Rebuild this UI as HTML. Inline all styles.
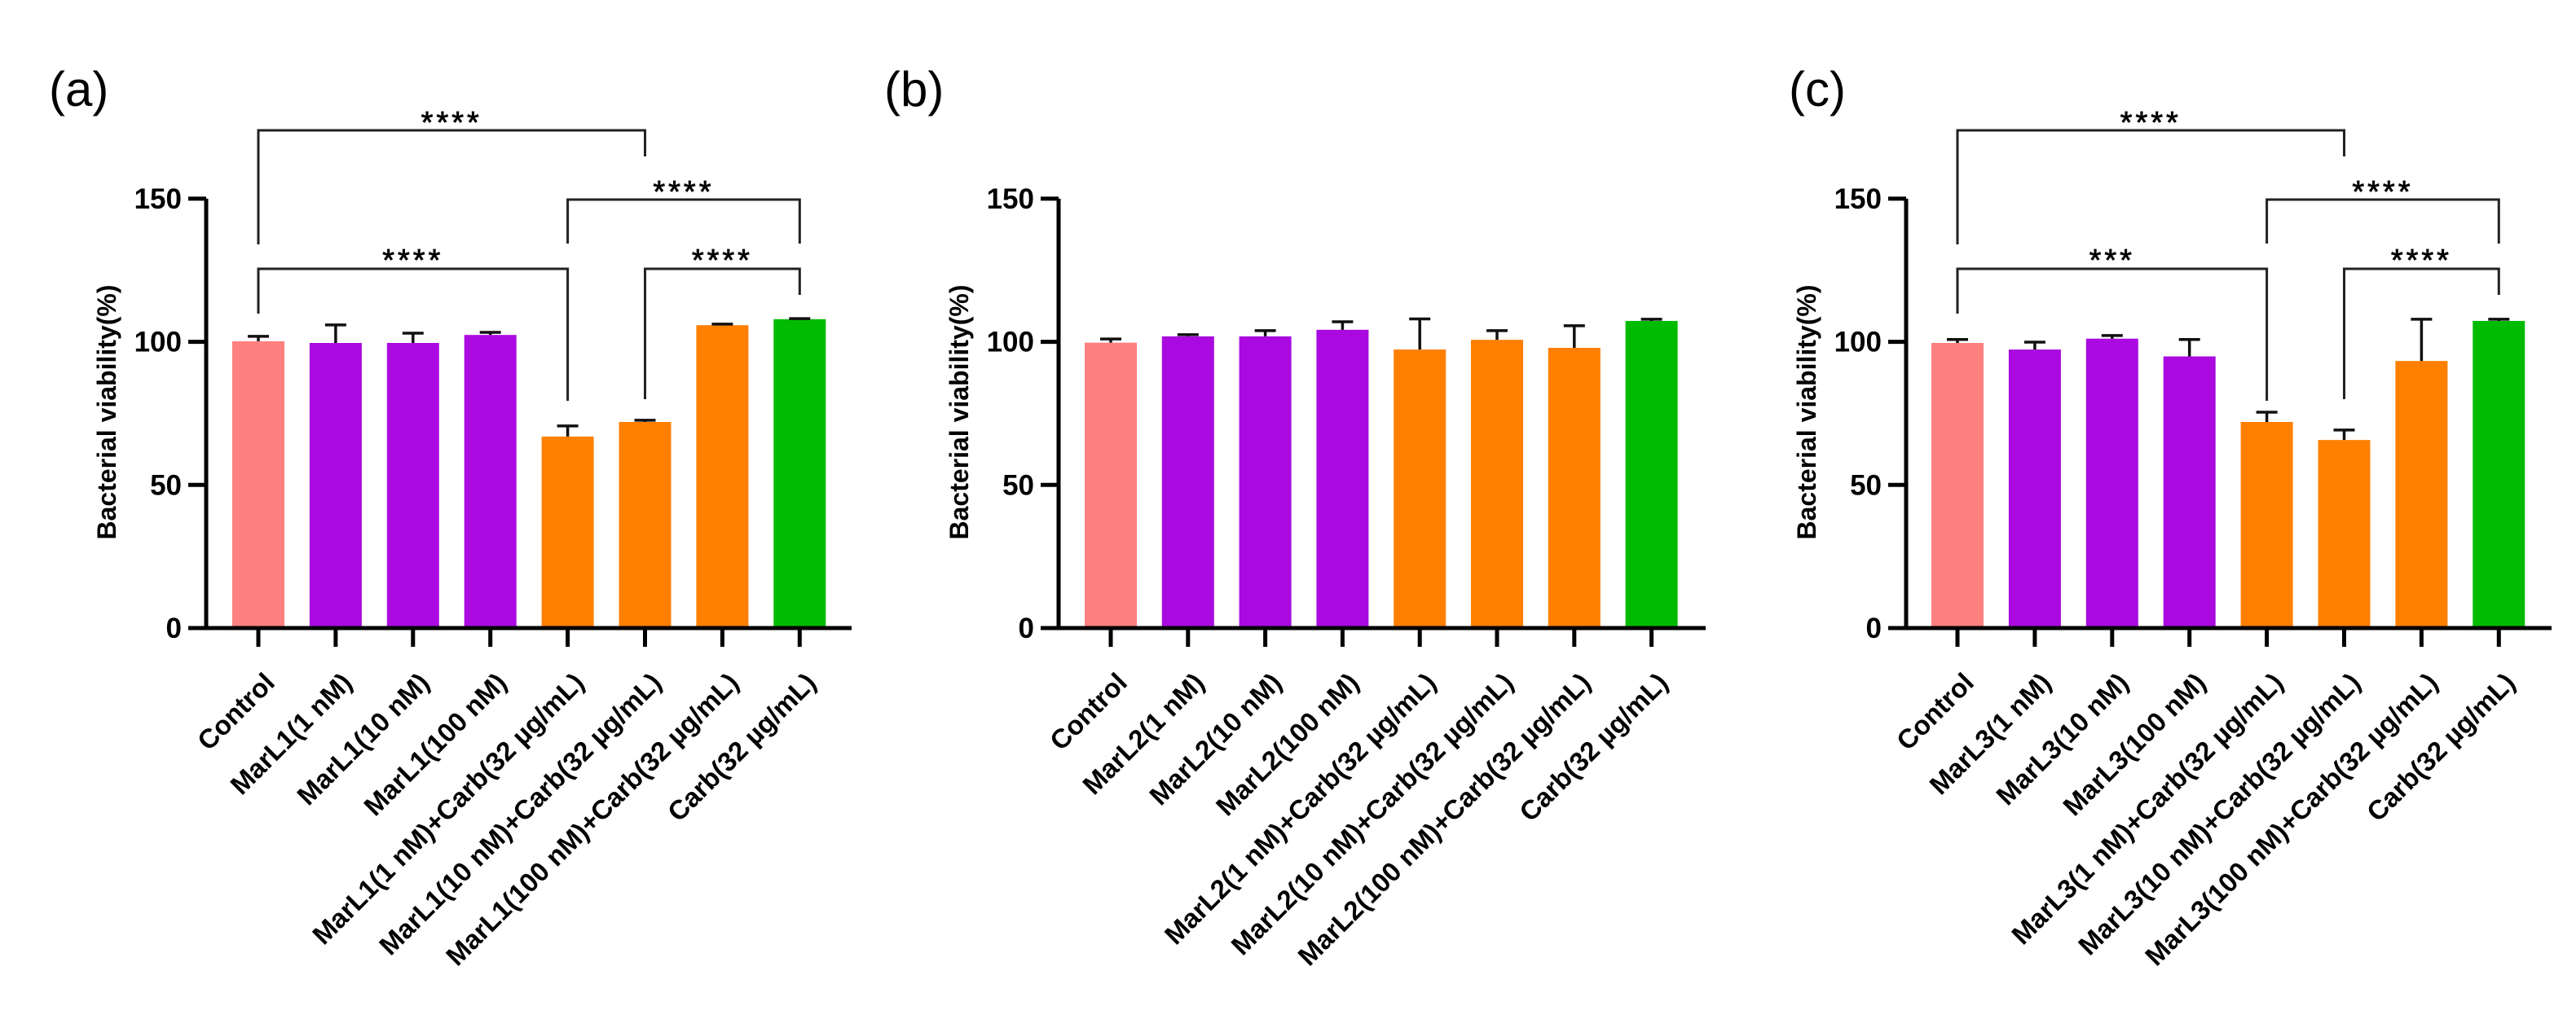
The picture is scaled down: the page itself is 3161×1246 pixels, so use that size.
<!DOCTYPE html>
<html><head><meta charset="utf-8"><style>
html,body{margin:0;padding:0;background:#fff;}
svg{display:block;}
text{font-family:"Liberation Sans",Arial,sans-serif;}
</style></head><body>
<svg id="fig" width="3161" height="1246" viewBox="0 0 3161 1246" xmlns="http://www.w3.org/2000/svg"></svg>
<script>
// ---- data ----
const labelsA = ["Control","MarL1(1 nM)","MarL1(10 nM)","MarL1(100 nM)","MarL1(1 nM)+Carb(32 µg/mL)","MarL1(10 nM)+Carb(32 µg/mL)","MarL1(100 nM)+Carb(32 µg/mL)","Carb(32 µg/mL)"];
const labelsB = ["Control","MarL2(1 nM)","MarL2(10 nM)","MarL2(100 nM)","MarL2(1 nM)+Carb(32 µg/mL)","MarL2(10 nM)+Carb(32 µg/mL)","MarL2(100 nM)+Carb(32 µg/mL)","Carb(32 µg/mL)"];
const labelsC = ["Control","MarL3(1 nM)","MarL3(10 nM)","MarL3(100 nM)","MarL3(1 nM)+Carb(32 µg/mL)","MarL3(10 nM)+Carb(32 µg/mL)","MarL3(100 nM)+Carb(32 µg/mL)","Carb(32 µg/mL)"];
const valuesA = [100.2, 99.6, 99.6, 102.4, 66.9, 72.0, 105.8, 107.9];
const errorsA = [1.7, 6.3, 3.4, 0.9, 3.7, 0.6, 0.4, 0.2];
const valuesB = [99.7, 101.9, 101.9, 104.2, 97.3, 100.7, 97.9, 107.3];
const errorsB = [1.3, 0.6, 2.0, 2.8, 10.7, 3.2, 7.7, 0.6];
const valuesC = [99.6, 97.3, 101.1, 94.9, 72.0, 65.7, 93.3, 107.3];
const errorsC = [1.2, 2.6, 1.1, 5.9, 3.4, 3.5, 14.6, 0.6];
const yTicks = [0, 50, 100, 150];
const colors = ["#ff8080","#aa0ae0","#aa0ae0","#aa0ae0","#ff8000","#ff8000","#ff8000","#00bb00"];
const sigA = [[0,5,"****"],[0,4,"****"],[4,7,"****"],[5,7,"****"]];
const sigC = [[0,5,"****"],[0,4,"***"],[4,7,"****"],[5,7,"****"]];

const panels = [
 {id:"a", letter:"(a)", lx:60, axisX:253, x0:317, step:94.9, axisEnd:1045, labels:labelsA, values:valuesA, errors:errorsA, sig:sigA},
 {id:"b", letter:"(b)", lx:1085, axisX:1299, x0:1363, step:94.8, axisEnd:2093, labels:labelsB, values:valuesB, errors:errorsB, sig:null},
 {id:"c", letter:"(c)", lx:2195, axisX:2339, x0:2402, step:94.9, axisEnd:3131, labels:labelsC, values:valuesC, errors:errorsC, sig:sigC}
];
const bracketGeom = [
 {y:160, ly:300, ry:192, sy:142},
 {y:330, ly:385, ry:492, sy:311},
 {y:245, ly:299, ry:299, sy:227},
 {y:330, ly:490, ry:362, sy:311}
];

const NS="http://www.w3.org/2000/svg";
const svg=document.getElementById("fig");
const Y0=771, PXPER=3.514;
function yScale(v){return Y0 - v*PXPER;}
function mk(tag, attrs, parent){
  const e=document.createElementNS(NS,tag);
  for(const k in attrs) e.setAttribute(k, attrs[k]);
  (parent||svg).appendChild(e);
  return e;
}

panels.forEach(p=>{
  const g=mk("g",{});
  
  
  const xS=i=>p.x0+i*p.step;

  const L=mk("text",{x:p.lx,y:130,"font-size":60},g);
  L.textContent=p.letter;
  
  

  p.values.forEach((v,i)=>{
    const r=mk("rect",{x:xS(i)-32,y:yScale(v),width:64,height:Y0-yScale(v),fill:colors[i]},g);
    
    
    const top=yScale(v+p.errors[i]);
    const eb=mk("path",{d:`M${xS(i)} ${yScale(v)} V${top} M${xS(i)-13} ${top} H${xS(i)+13}`,stroke:"#111","stroke-width":3.5,fill:"none"},g);
    
    
  });

  const ax=mk("path",{d:`M${p.axisX} ${yScale(150)} V${Y0+2} M${p.axisX-22} ${Y0} H${p.axisEnd}`,stroke:"#000","stroke-width":5,fill:"none"},g);
  
  
  yTicks.forEach(t=>{
    const y=yScale(t);
    const tk=mk("line",{x1:p.axisX-22,x2:p.axisX,y1:y,y2:y,stroke:"#000","stroke-width":5},g);
    
    
    const tl=mk("text",{x:p.axisX-30,y:y+12,"font-size":35,"font-weight":"bold","text-anchor":"end"},g);
    tl.textContent=t;
    
    
  });
  const yt=mk("text",{x:0,y:0,"font-size":32,"font-weight":"bold","text-anchor":"middle",transform:`translate(${p.axisX-111},506) rotate(-90)`},g);
  yt.textContent="Bacterial viability(%)";
  
  

  p.labels.forEach((lab,i)=>{
    const x=xS(i);
    const tk=mk("line",{x1:x,x2:x,y1:Y0,y2:Y0+23,stroke:"#000","stroke-width":5},g);
    
    
    const t=mk("text",{x:0,y:0,"font-size":33,"font-weight":"bold","text-anchor":"end",transform:`translate(${x+22},${840}) rotate(-45)`},g);
    t.textContent=lab;
    
    
  });

  if(p.sig){
    p.sig.forEach((s,k)=>{
      const G=bracketGeom[k];
      const x1=xS(s[0]), x2=xS(s[1]);
      const b=mk("path",{d:`M${x1} ${G.ly} V${G.y} H${x2} V${G.ry}`,stroke:"#222","stroke-width":3,fill:"none"},g);
      
      
      const st=mk("text",{x:(x1+x2)/2,y:G.sy+21,"font-size":38,"text-anchor":"middle","letter-spacing":4,stroke:"#000","stroke-width":0.8},g);
      st.textContent=s[2];
      
      
    });
  }
});
</script>
</body></html>
